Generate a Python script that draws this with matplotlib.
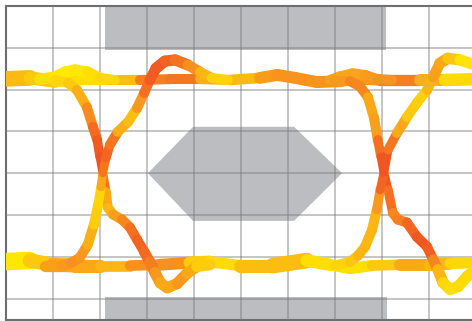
import numpy as np
import matplotlib
matplotlib.use("Agg")
import matplotlib.pyplot as plt
from matplotlib.collections import LineCollection
from matplotlib.colors import LinearSegmentedColormap
from matplotlib.patches import Rectangle, Polygon

# eye diagram traces, in grid divisions (x: time, y: amplitude)
# each trace: x, y, colour value (0 yellow .. 1 red), ribbon width in px

top_x = [-0.13, 0.51, 1.04, 1.57, 2.21, 2.85, 3.49, 4.13, 4.77, 5.40, 5.77, 6.15, 6.62, 7.11, 7.53, 7.96, 8.38, 8.81, 9.34, 9.98]
top_y = [5.25, 5.28, 5.20, 5.23, 5.23, 5.23, 5.25, 5.25, 5.23, 5.28, 5.35, 5.28, 5.18, 5.20, 5.25, 5.23, 5.23, 5.23, 5.23, 5.25]
top_c = [0.35, 0.3, 0.15, 0.05, 0.1, 0.5, 0.9, 0.6, 0.2, 0.45, 0.6, 0.55, 0.6, 0.55, 0.5, 0.6, 0.8, 0.6, 0.2, 0.0]
top_w = [13, 12, 9, 8, 8, 8, 8, 8, 8, 9, 10, 9, 10, 9, 9, 9, 9, 9, 10, 10]

bot_x = [-0.13, 0.51, 1.0, 1.47, 2.0, 2.64, 3.28, 3.91, 4.34, 4.98, 5.68, 6.40, 6.89, 7.32, 7.79, 8.38, 9.02, 9.45, 9.98]
bot_y = [0.88, 0.91, 0.81, 0.79, 0.79, 0.79, 0.81, 0.86, 0.88, 0.79, 0.79, 0.91, 0.81, 0.72, 0.79, 0.81, 0.81, 0.84, 0.86]
bot_c = [0.0, 0.05, 0.4, 0.5, 0.4, 0.3, 0.9, 0.3, 0.1, 0.1, 0.5, 0.1, 0.05, 0.1, 0.05, 0.4, 0.5, 0.2, 0.05]
bot_w = [15, 13, 10, 12, 9, 8, 9, 10, 10, 8, 13, 12, 8, 10, 8, 9, 10, 10, 8]

hump1_x = [0.72, 1.04, 1.26, 1.47, 1.74, 2.0, 2.32]
hump1_y = [5.25, 5.30, 5.42, 5.47, 5.42, 5.28, 5.23]
hump1_c = [0.1, 0.05, 0.0, 0.0, 0.05, 0.1, 0.15]
hump1_w = [9, 9, 9, 9, 9, 8, 8]

hump2_x = [6.89, 7.11, 7.38, 7.64, 7.91, 8.21]
hump2_y = [5.23, 5.32, 5.39, 5.35, 5.25, 5.23]
hump2_c = [0.5, 0.5, 0.45, 0.5, 0.55, 0.6]
hump2_w = [8, 8, 8, 8, 8, 8]

fall1_x = [1.04, 1.32, 1.51, 1.72, 1.85, 1.94, 2.0, 2.06, 2.13, 2.17, 2.28, 2.47, 2.64, 2.79, 2.94, 3.06, 3.17, 3.28, 3.43, 3.64, 3.85, 4.06, 4.34]
fall1_y = [5.23, 5.16, 4.99, 4.58, 4.11, 3.80, 3.39, 3.01, 2.55, 2.17, 2.01, 1.89, 1.70, 1.41, 1.12, 0.88, 0.62, 0.38, 0.26, 0.36, 0.60, 0.77, 0.81]
fall1_c = [0.1, 0.15, 0.3, 0.5, 0.75, 0.9, 0.95, 1.0, 0.6, 0.3, 0.4, 0.6, 0.7, 0.9, 0.85, 0.8, 0.6, 0.5, 0.4, 0.5, 0.6, 0.3, 0.1]
fall1_w = [8, 8, 8, 8, 8, 8, 7, 7, 7, 8, 8, 8, 8, 8, 8, 9, 9, 9, 9, 9, 9, 9, 9]

rise1_x = [0.83, 1.19, 1.40, 1.57, 1.74, 1.87, 1.96, 2.02, 2.06, 2.13, 2.21, 2.38, 2.60, 2.79, 2.94, 3.06, 3.19, 3.38, 3.60, 3.87, 4.13, 4.38, 4.72]
rise1_y = [0.79, 0.79, 0.86, 0.98, 1.29, 1.77, 2.24, 2.67, 3.01, 3.37, 3.68, 3.99, 4.23, 4.56, 4.92, 5.23, 5.51, 5.68, 5.71, 5.59, 5.42, 5.28, 5.23]
rise1_c = [0.5, 0.5, 0.6, 0.6, 0.5, 0.3, 0.1, 0.2, 0.7, 0.8, 0.9, 0.6, 0.2, 0.4, 0.7, 0.9, 0.95, 0.9, 0.85, 0.7, 0.5, 0.2, 0.1]
rise1_w = [9, 9, 8, 8, 8, 8, 8, 7, 7, 7, 8, 8, 8, 8, 8, 8, 9, 9, 9, 9, 8, 8, 8]

fall2_x = [7.0, 7.32, 7.53, 7.70, 7.83, 7.91, 7.98, 8.04, 8.13, 8.23, 8.34, 8.53, 8.74, 8.96, 9.09, 9.19, 9.30, 9.45, 9.62, 9.81, 9.98]
fall2_y = [5.20, 5.20, 5.08, 4.82, 4.32, 3.80, 3.39, 3.01, 2.60, 2.05, 1.89, 1.82, 1.48, 1.24, 0.93, 0.69, 0.38, 0.22, 0.29, 0.53, 0.69]
fall2_c = [0.5, 0.6, 0.7, 0.6, 0.3, 0.7, 0.9, 1.0, 0.9, 0.7, 0.6, 0.8, 0.9, 1.0, 0.8, 0.5, 0.2, 0.05, 0.1, 0.1, 0.1]
fall2_w = [8, 8, 8, 8, 8, 8, 7, 7, 7, 8, 8, 8, 8, 8, 8, 9, 9, 9, 9, 9, 9]

rise2_x = [7.0, 7.32, 7.49, 7.64, 7.79, 7.89, 7.96, 8.04, 8.13, 8.32, 8.53, 8.74, 8.96, 9.09, 9.23, 9.40, 9.66, 9.98]
rise2_y = [0.79, 0.88, 1.03, 1.24, 1.65, 2.13, 2.60, 3.01, 3.56, 3.96, 4.34, 4.68, 4.99, 5.30, 5.63, 5.75, 5.71, 5.59]
rise2_c = [0.1, 0.2, 0.3, 0.4, 0.3, 0.4, 0.7, 1.0, 0.9, 0.6, 0.3, 0.15, 0.2, 0.5, 0.5, 0.4, 0.1, 0.0]
rise2_w = [8, 8, 8, 8, 8, 8, 7, 7, 7, 8, 8, 8, 8, 8, 9, 9, 9, 9]

# eye mask (keep-out regions)
mask_top = (2.11, 5.95, 8.09, 7.0)
mask_bot = (2.11, -0.5, 8.11, 0.05)
mask_hex_x = [3.02, 3.98, 6.13, 7.15, 6.13, 3.98]
mask_hex_y = [3.0, 4.11, 4.11, 3.0, 1.86, 1.86]

cmap = LinearSegmentedColormap.from_list("eye", ["#FFEA00", "#F9A01B", "#F04E23"])
mask_col = "#BCBDC1"

fig = plt.figure(figsize=(4.72, 3.21), dpi=100)
ax = fig.add_axes([6 / 472, 1.5 / 321, 466 / 472, 313.5 / 321])
ax.set_xlim(0, 9.915)
ax.set_ylim(-0.5, 7.0)

for x0, y0, x1, y1 in [mask_top, mask_bot]:
    ax.add_patch(Rectangle((x0, y0), x1 - x0, y1 - y0, facecolor=mask_col, edgecolor="none", zorder=1))
ax.add_patch(Polygon(np.column_stack([mask_hex_x, mask_hex_y]), closed=True,
                     facecolor=mask_col, edgecolor="none", zorder=1))


def draw_trace(xs, ys, cs, ws):
    pts = np.column_stack([xs, ys])
    segs = np.stack([pts[:-1], pts[1:]], axis=1)
    cs = np.asarray(cs)
    ws = np.asarray(ws, dtype=float)
    cols = cmap((cs[:-1] + cs[1:]) / 2)
    lws = (ws[:-1] + ws[1:]) / 2 * 0.9
    lc = LineCollection(segs, colors=cols, linewidths=lws, capstyle="round",
                        joinstyle="round", zorder=3)
    ax.add_collection(lc)


draw_trace(top_x, top_y, top_c, top_w)
draw_trace(bot_x, bot_y, bot_c, bot_w)
draw_trace(hump1_x, hump1_y, hump1_c, hump1_w)
draw_trace(hump2_x, hump2_y, hump2_c, hump2_w)
draw_trace(fall1_x, fall1_y, fall1_c, fall1_w)
draw_trace(rise1_x, rise1_y, rise1_c, rise1_w)
draw_trace(fall2_x, fall2_y, fall2_c, fall2_w)
draw_trace(rise2_x, rise2_y, rise2_c, rise2_w)

ax.set_xticks(range(1, 10))
ax.set_yticks(range(0, 7))
ax.tick_params(length=0, labelbottom=False, labelleft=False)
ax.set_axisbelow(False)
ax.grid(True, color="#7a7a7a", alpha=0.55, linewidth=1.1)
for side in ["top", "left", "bottom"]:
    ax.spines[side].set_color("#6d6e71")
    ax.spines[side].set_linewidth(1.5)
ax.spines["right"].set_visible(False)

fig.savefig("out.png", dpi=100)
